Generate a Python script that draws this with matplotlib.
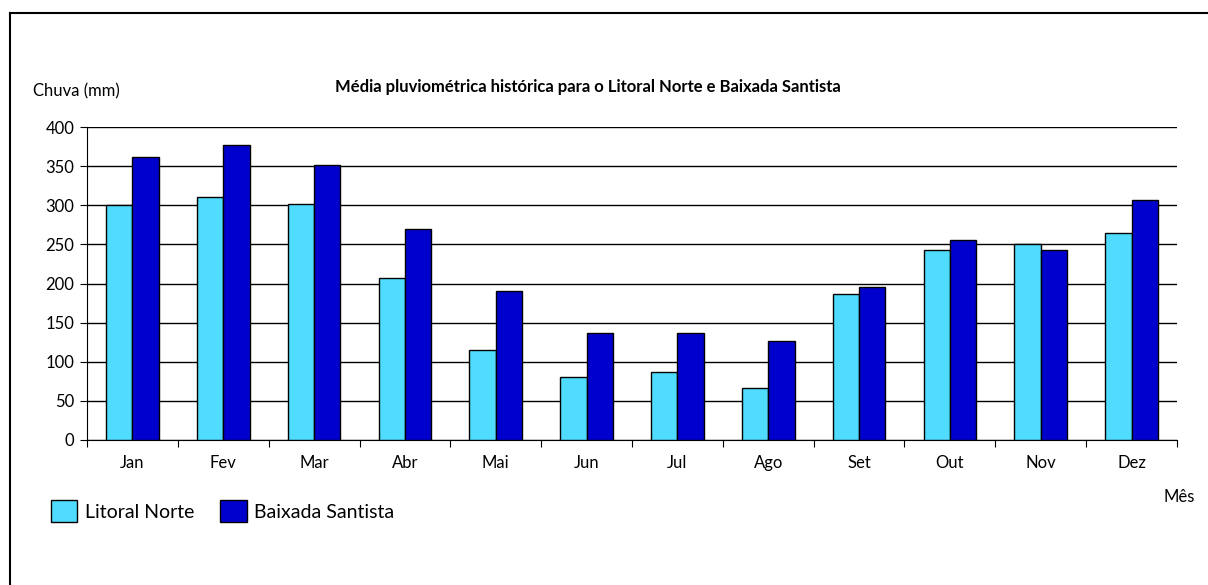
import matplotlib
matplotlib.use('Agg')
import matplotlib.pyplot as plt
import numpy as np
from matplotlib.lines import Line2D

plt.rcParams['font.family'] = ['Lato', 'DejaVu Sans']

meses = ['Jan', 'Fev', 'Mar', 'Abr', 'Mai', 'Jun', 'Jul', 'Ago', 'Set', 'Out', 'Nov', 'Dez']
litoral_norte = [300, 310, 302, 207, 115, 81, 87, 66, 186, 243, 251, 265]
baixada_santista = [362, 377, 352, 270, 191, 137, 137, 127, 196, 256, 243, 307]

cor_ln = '#50DCFF'
cor_bs = '#0000CC'

W, H = 1208, 585
fig = plt.figure(figsize=(W/100, H/100), dpi=100)
ax = fig.add_axes([87/W, 1 - 440/H, (1177-87)/W, (440-127)/H])

x = np.arange(len(meses))
w = 0.29
ax.bar(x - w/2, litoral_norte, w, color=cor_ln, edgecolor='black', linewidth=1, label='Litoral Norte', zorder=3)
ax.bar(x + w/2, baixada_santista, w, color=cor_bs, edgecolor='black', linewidth=1, label='Baixada Santista', zorder=3)

ax.set_xlim(-0.5, len(meses) - 0.5)
ax.set_ylim(0, 400)
ax.set_yticks(np.arange(0, 401, 50))
ax.yaxis.grid(True, color='black', linewidth=1, zorder=0)
ax.set_axisbelow(True)

# ticks between the groups, labels in the middle
ax.set_xticks(np.arange(-0.5, len(meses), 1))
ax.set_xticklabels([])
ax.set_xticks(x, minor=True)
ax.set_xticklabels(meses, minor=True)
ax.tick_params(axis='x', which='major', length=5, direction='out', color='black')
ax.tick_params(axis='x', which='minor', length=0, pad=11, labelsize=12)
ax.tick_params(axis='y', length=5, direction='out', labelsize=12, pad=4)

for s in ['top', 'right']:
    ax.spines[s].set_visible(False)

fig.text(588/W, 1 - 87/H, 'Média pluviométrica histórica para o Litoral Norte e Baixada Santista',
         ha='center', va='center', fontsize=12, fontweight='bold')
fig.text(33/W, 1 - 91/H, 'Chuva (mm)', ha='left', va='center', fontsize=12)
fig.text(1195/W, 1 - 497/H, 'Mês', ha='right', va='center', fontsize=12)

fig.legend(loc='center left', bbox_to_anchor=(33/W, 1 - 511/H), ncol=2, frameon=False,
           fontsize=14, handlelength=1.38, handleheight=1.3, handletextpad=0.4, columnspacing=1.3)

# outer frame (top and left edges only visible)
fig.add_artist(Line2D([10/W, 1], [1 - 12.5/H, 1 - 12.5/H], transform=fig.transFigure, color='black', linewidth=1.5))
fig.add_artist(Line2D([10/W, 10/W], [0, 1 - 12.5/H], transform=fig.transFigure, color='black', linewidth=1.5))

fig.savefig('out.png', dpi=100)
